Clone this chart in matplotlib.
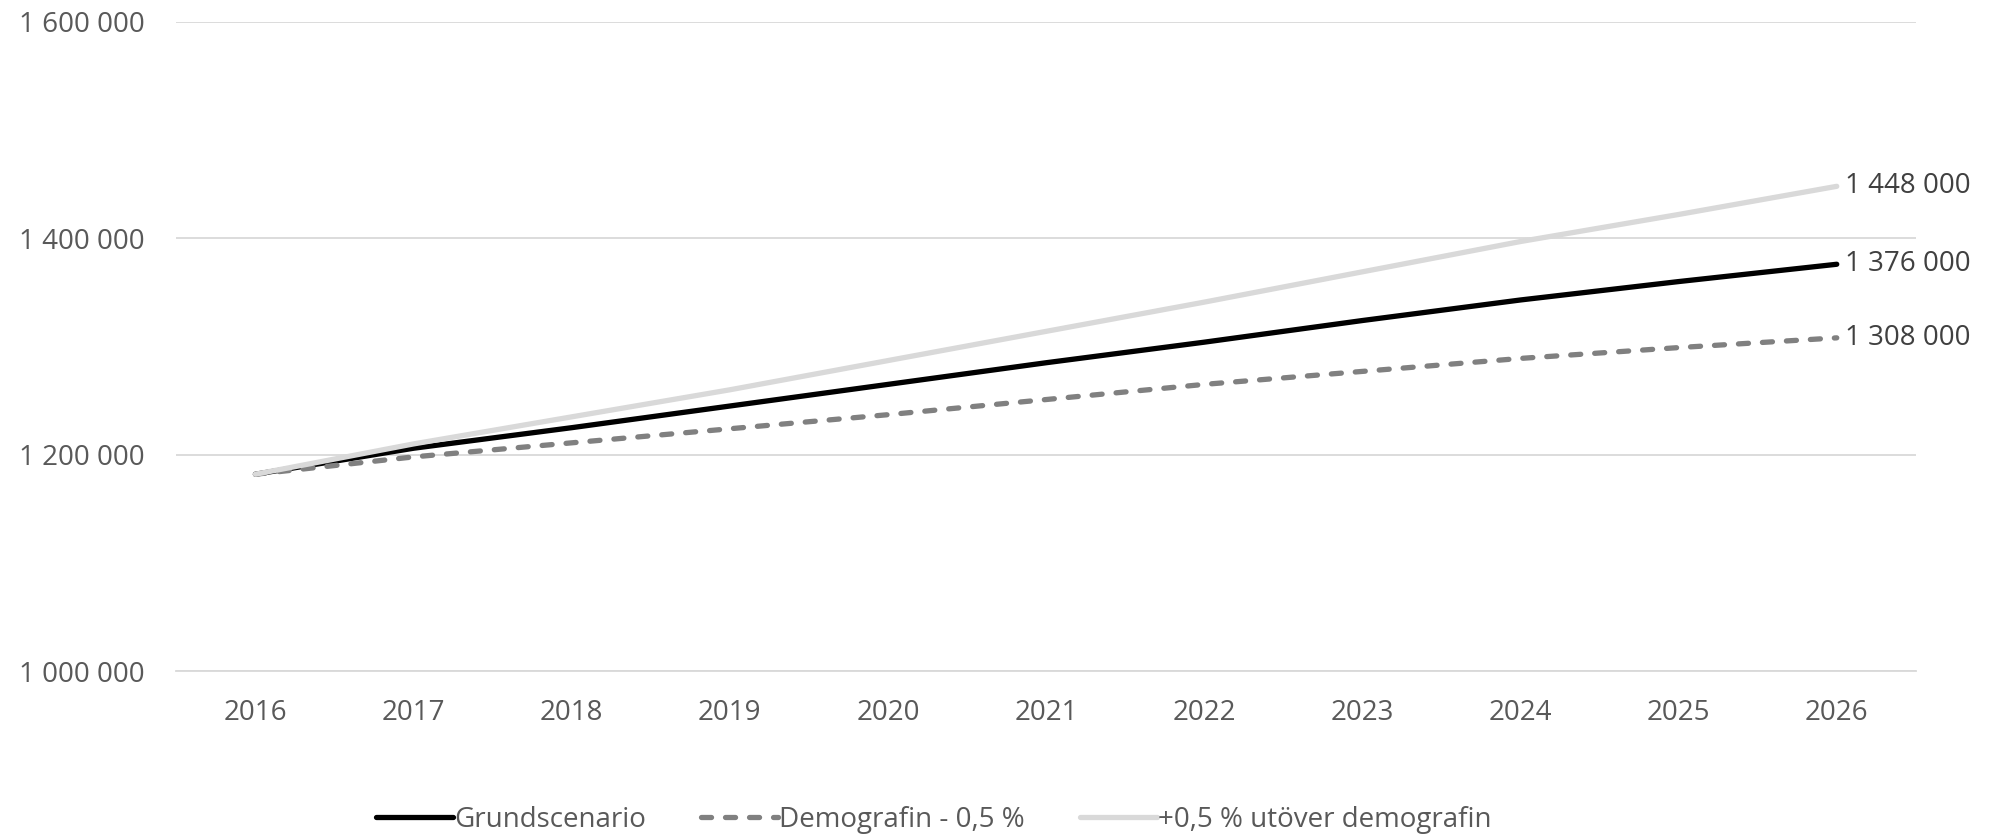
import matplotlib
matplotlib.use("Agg")
import matplotlib.pyplot as plt
from matplotlib.ticker import FuncFormatter

plt.rcParams['font.family'] = ['Open Sans', 'DejaVu Sans']

years = [2016, 2017, 2018, 2019, 2020, 2021, 2022, 2023, 2024, 2025, 2026]
grund = [1182000, 1206000, 1225000, 1245000, 1265000, 1285000, 1304000, 1324000, 1343000, 1360000, 1376000]
demo_minus = [1182000, 1198000, 1211000, 1224000, 1237000, 1251000, 1265000, 1277000, 1289000, 1299000, 1308000]
demo_plus = [1182000, 1210000, 1235000, 1260000, 1287000, 1314000, 1341000, 1369000, 1397000, 1422000, 1448000]
names = ["Grundscenario", "Demografin - 0,5 %", "+0,5 % utöver demografin"]
yticks = [1000000, 1200000, 1400000, 1600000]

txt = "#595959"
fs = 20

fig = plt.figure(figsize=(20.04, 8.39), dpi=100)
ax = fig.add_axes([0.088, 0.200, 0.868, 0.774])

# same drawing order as the original: last series on top
l1, = ax.plot(years, grund, color="black", lw=3.8, solid_capstyle="round", zorder=2)
l2, = ax.plot(years, demo_minus, color="#808080", lw=3.8, ls=(0, (1.9, 2.65)),
              dash_capstyle="round", zorder=3)
l3, = ax.plot(years, demo_plus, color="#d9d9d9", lw=3.8, solid_capstyle="round", zorder=4)

for series in (grund, demo_minus, demo_plus):
    ax.annotate(f"{series[-1]:,}".replace(",", " "), (years[-1], series[-1]),
                xytext=(6, 0), textcoords="offset points", va="center", ha="left",
                fontsize=fs, color="#404040", annotation_clip=False)

ax.set_xlim(2015.5, 2026.5)
ax.set_ylim(1000000, 1600000)
ax.set_yticks(yticks)
ax.set_xticks(years)
ax.yaxis.set_major_formatter(FuncFormatter(lambda v, p: f"{int(v):,}".replace(",", " ")))
ax.grid(axis="y", color="#d9d9d9", lw=1.3)
ax.set_axisbelow(True)
for s in ax.spines.values():
    s.set_visible(False)
ax.spines["bottom"].set_visible(True)
ax.spines["bottom"].set_color("#d9d9d9")
ax.spines["bottom"].set_linewidth(1.3)
ax.tick_params(axis="both", length=0, labelsize=fs, labelcolor=txt)
ax.tick_params(axis="y", pad=23)
ax.tick_params(axis="x", pad=20)

fig.legend([l1, l2, l3], names, loc="center", bbox_to_anchor=(0.466, 0.023), ncol=3,
           frameon=False, fontsize=fs, labelcolor=txt, handlelength=2.75,
           handletextpad=0.05, columnspacing=2.0)

fig.savefig("out.png", dpi=100, facecolor="white")
